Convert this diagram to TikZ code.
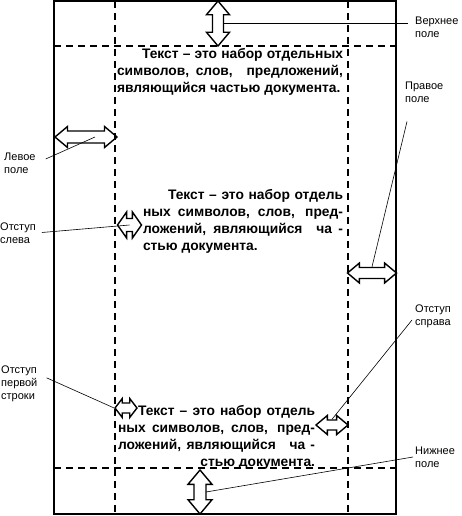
\documentclass[tikz,border=0pt]{standalone}
\usepackage{fontspec}
\setmainfont{Liberation Sans}
\usetikzlibrary{shapes.arrows}

\begin{document}
\begin{tikzpicture}[x=1pt, y=-1pt,
  page/.style={line width=1.6pt},
  guide/.style={line width=1.3pt, dash pattern=on 7pt off 5pt},
  arr/.style n args={3}{draw, line width=1.4pt, double arrow,
    double arrow tip angle=80, inner xsep=0pt,
    minimum height=#1, inner ysep=#2, double arrow head extend=#3},
  txt/.style={font=\bfseries\fontsize{13.8}{17}\selectfont,
    align=justify, inner sep=0pt},
  lbl/.style={font=\fontsize{11}{13}\selectfont, align=left,
    inner sep=0pt, anchor=west},
  con/.style={line width=0.6pt}]

  \useasboundingbox (0,0) rectangle (461,516);

  % page and margins
  \draw [page] (54,1) rectangle (396,514);
  \draw [guide] (115,1) -- (115,514);
  \draw [guide] (348,1) -- (348,514);
  \draw [guide] (54,46) -- (396,46);
  \draw [guide] (54,468) -- (396,468);

  % text blocks
  \node [txt, text width=226pt] (P1) at (230,72)
    {\parfillskip=0pt\hspace*{25pt}Текст – это набор отдельных\linebreak
     символов, слов,\quad предложений,\linebreak
     являющийся частью документа.};
  \node [txt, text width=200pt] (P2) at (243,221)
    {\hspace*{25pt}Текст – это набор отдель\linebreak
     ных символов, слов,\, пред-\linebreak
     ложений, являющийся\quad ча -\linebreak
     стью документа.};
  \node [txt, text width=197pt] (P3) at (216.5,437)
    {\parfillskip=0pt\hspace*{20pt}Текст – это набор отдель\linebreak
     ных символов, слов,\, пред-\linebreak
     ложений, являющийся\quad ча -\linebreak
     \hspace*{\fill}стью документа.\hspace*{5pt}};

  % double arrows
  \node [arr={45pt}{4.8pt}{6pt}, rotate=90] (TopM) at (218,23.5) {};
  \node [arr={62pt}{5.3pt}{4.5pt}] (LeftM) at (86,137) {};
  \node [arr={24pt}{5.8pt}{6.5pt}, double arrow tip angle=110] (LindM) at (129.5,225) {};
  \node [arr={49pt}{4.8pt}{4.5pt}] (RightM) at (372,273) {};
  \node [arr={22pt}{4.3pt}{4.5pt}, double arrow tip angle=105] (FirstM) at (126,408) {};
  \node [arr={32pt}{4.3pt}{4.5pt}] (RindM) at (332,425) {};
  \node [arr={44pt}{5.3pt}{6pt}, rotate=90] (BotM) at (200,492) {};

  % labels
  \node [lbl] (TopL)   at (415,27)  {Верхнее\\поле};
  \node [lbl] (RightL) at (405,92)  {Правое\\поле};
  \node [lbl] (LeftL)  at (4,163)   {Левое\\поле};
  \node [lbl] (LindL)  at (0,233)   {Отступ\\слева};
  \node [lbl] (FirstL) at (1,384)   {Отступ\\первой\\строки};
  \node [lbl] (RindL)  at (415,316) {Отступ\\справа};
  \node [lbl] (BotL)   at (415,457) {Нижнее\\поле};

  % leaders
  \draw [con, shorten <=5.5pt, shorten >=7pt] (TopM.center) -- (TopM -| TopL.west);
  \draw [con] ([shift={(2,19)}]RightL.south west) -- (RightM.north);
  \draw [con] ([shift={(10,-4)}]LeftL.east) -- ([xshift=9pt]LeftM.center);
  \draw [con, shorten <=6pt] (LindL.east) -- (LindM.center);
  \draw [con] ([shift={(9,12)}]FirstL.north east) -- (FirstM.west);
  \draw [con] ([shift={(-3,4)}]RindL.west) -- (RindM.north);
  \draw [con] ([xshift=-2pt]BotL.west) -- ([xshift=6pt]BotM.center);
\end{tikzpicture}
\end{document}
